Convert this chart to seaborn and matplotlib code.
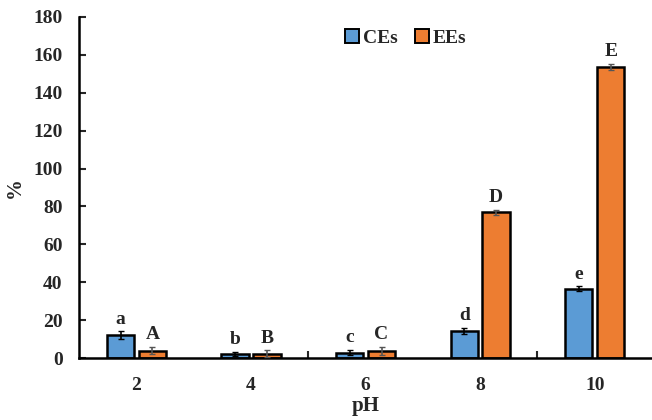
import matplotlib
matplotlib.use("Agg")
import matplotlib.pyplot as plt
import seaborn as sns
import pandas as pd
import numpy as np

ph_labels = ["2", "4", "6", "8", "10"]
ce_values = [12.1, 2.2, 2.9, 14.4, 36.5]
ee_values = [3.9, 2.2, 3.8, 76.8, 153.7]
ce_err = [2.0, 1.0, 1.5, 1.5, 1.3]
ee_err = [2.0, 1.8, 2.0, 1.5, 1.5]
ce_letters = ["a", "b", "c", "d", "e"]
ee_letters = ["A", "B", "C", "D", "E"]
series = ["CEs", "EEs"]
colors = ["#5B9BD5", "#ED7D31"]
err_colors = ["black", "#555555"]

sns.set_theme(style="white")
plt.rcParams['font.family'] = ['Liberation Serif', 'DejaVu Serif']
plt.rcParams['font.weight'] = 'bold'

df = pd.DataFrame({
    "pH": ph_labels * 2,
    "value": ce_values + ee_values,
    "series": [series[0]] * 5 + [series[1]] * 5,
})

fig = plt.figure(figsize=(6.52, 4.2), dpi=100)
ax = fig.add_axes([0.1215, 0.1476, 0.8785, 0.812])

sns.barplot(data=df, x="pH", y="value", hue="series", order=ph_labels,
            hue_order=series, palette=colors, ax=ax, width=0.556, gap=0.14,
            edgecolor="black", linewidth=1.8, errorbar=None, saturation=1)

errs = [ce_err, ee_err]
letters = [ce_letters, ee_letters]
vals = [ce_values, ee_values]
bar_containers = list(ax.containers)
for si, cont in enumerate(bar_containers):
    for i, patch in enumerate(cont.patches):
        xc = patch.get_x() + patch.get_width() / 2
        h = vals[si][i]
        ax.errorbar(xc, h, yerr=errs[si][i], fmt="none", ecolor=err_colors[si],
                    elinewidth=1.2, capsize=2.5, capthick=1.0, zorder=5)
        ax.text(xc, h + errs[si][i] + 2.0, letters[si][i], ha="center", va="bottom",
                fontsize=14, fontweight="bold", family=['Liberation Serif'])

ax.set_ylim(0, 180)
ax.set_yticks(np.arange(0, 181, 20))
ax.set_xlim(-0.5, 4.5)
ax.set_xlabel("pH", fontsize=15, fontweight="bold", labelpad=1)
ax.set_ylabel("%", fontsize=15, fontweight="bold", labelpad=6)
ax.tick_params(axis="y", direction="in", length=5, width=1.5, labelsize=14, pad=12, left=True)
ax.tick_params(axis="x", length=0, labelsize=14, pad=14)
ax.set_xticks([1.5, 3.5], minor=True)
ax.tick_params(axis="x", which="minor", direction="in", length=5, width=1.5, bottom=True)
for lab in ax.get_xticklabels() + ax.get_yticklabels():
    lab.set_fontweight("bold")

for s in ["top", "right"]:
    ax.spines[s].set_visible(False)
for s in ["left", "bottom"]:
    ax.spines[s].set_linewidth(1.8)
    ax.spines[s].set_color("black")

leg = ax.legend(loc="center", bbox_to_anchor=(0.57, 0.938), ncol=2, frameon=False,
                handlelength=0.7, handleheight=0.7, handletextpad=0.2,
                columnspacing=0.9, prop={"weight": "bold", "size": 14})
for h in leg.legend_handles:
    h.set_edgecolor("black")
    h.set_linewidth(1.4)

fig.savefig("out.png", dpi=100)
